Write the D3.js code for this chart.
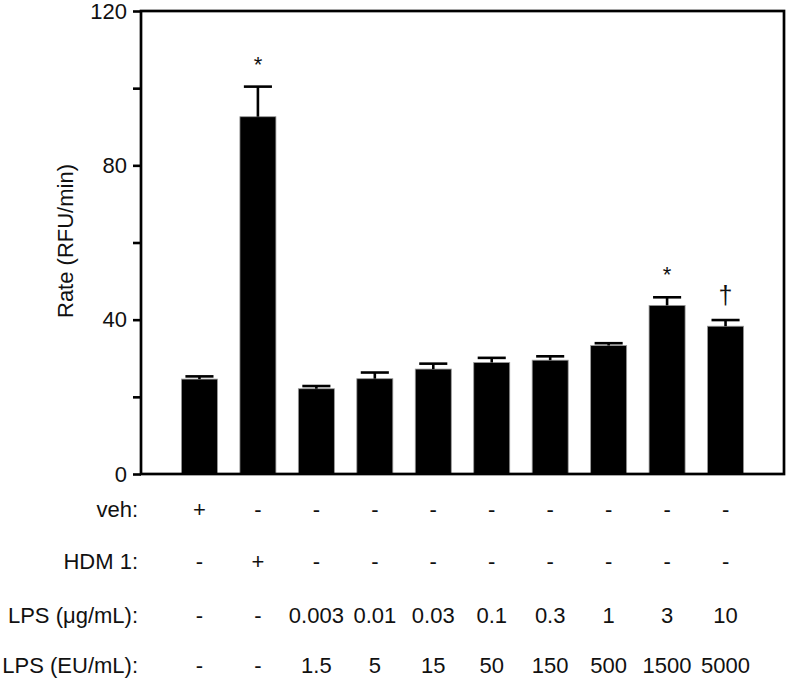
<!DOCTYPE html>
<html>
<head>
<meta charset="utf-8">
<script src="https://cdn.jsdelivr.net/npm/d3@7"></script>
<style>
  html, body { margin: 0; padding: 0; background: #fff; }
  svg { display: block; font-family: "Liberation Sans", Arial, Helvetica, sans-serif; }
</style>
</head>
<body>
<svg id="chart" width="788" height="680"></svg>
<script>
// ---- data ----
const groups = ["g1","g2","g3","g4","g5","g6","g7","g8","g9","g10"];
const means  = [24.6, 92.6, 22.1, 24.7, 27.2, 28.9, 29.5, 33.3, 43.7, 38.3];
const errors = [0.7, 7.8, 0.7, 1.6, 1.4, 1.2, 1.0, 0.6, 2.1, 1.6];
const marks  = ["", "*", "", "", "", "", "", "", "*", "\u2020"];
const yTicks = [0, 20, 40, 60, 80, 100, 120];
const yLabelTicks = [0, 40, 80, 120];
const rowLabels = ["veh:", "HDM 1:", "LPS (\u03BCg/mL):", "LPS (EU/mL):"];
const rowVeh  = ["+", "-", "-", "-", "-", "-", "-", "-", "-", "-"];
const rowHDM  = ["-", "+", "-", "-", "-", "-", "-", "-", "-", "-"];
const rowLPSug = ["-", "-", "0.003", "0.01", "0.03", "0.1", "0.3", "1", "3", "10"];
const rowLPSeu = ["-", "-", "1.5", "5", "15", "50", "150", "500", "1500", "5000"];
const rows = [rowVeh, rowHDM, rowLPSug, rowLPSeu];
const yTitle = "Rate (RFU/min)";

// ---- layout ----
const L = 141, R = 784, T = 11, B = 474;
const rowBaselines = [517, 569, 623, 673];
const fs = 22;

const svg = d3.select("#chart");

const x = d3.scaleBand().domain(groups).range([L, R])
  .paddingInner(0.384).paddingOuter(0.692);
const y = d3.scaleLinear().domain([0, 120]).range([B, T]);

// bars
svg.append("g").selectAll("rect").data(groups).join("rect")
  .attr("x", d => x(d))
  .attr("width", x.bandwidth())
  .attr("y", (d, i) => y(means[i]))
  .attr("height", (d, i) => y(0) - y(means[i]))
  .attr("fill", "#000")
  .attr("stroke", "#9a9a9a")
  .attr("stroke-width", 0.8);

// error bars (upper only)
const capW = x.bandwidth() * 0.78;
const eb = svg.append("g").attr("stroke", "#000").attr("stroke-width", 2.6);
groups.forEach((g, i) => {
  const cx = x(g) + x.bandwidth() / 2;
  eb.append("line").attr("x1", cx).attr("x2", cx)
    .attr("y1", y(means[i])).attr("y2", y(means[i] + errors[i]));
  eb.append("line").attr("x1", cx - capW / 2).attr("x2", cx + capW / 2)
    .attr("y1", y(means[i] + errors[i])).attr("y2", y(means[i] + errors[i]));
});

// significance marks
svg.append("g").selectAll("text").data(groups).join("text")
  .attr("x", d => x(d) + x.bandwidth() / 2)
  .attr("y", (d, i) => y(means[i] + errors[i]) - (marks[i] === "*" ? 15 : 16))
  .attr("text-anchor", "middle")
  .attr("font-size", (d, i) => marks[i] === "*" ? 22 : 25)
  .attr("fill", "#111")
  .text((d, i) => marks[i]);

// y axis
const yAxis = d3.axisLeft(y).tickValues(yTicks).tickSize(8).tickPadding(6)
  .tickFormat(d => yLabelTicks.includes(d) ? d : "");
const ya = svg.append("g").attr("transform", `translate(${L},0)`).call(yAxis);
ya.select(".domain").remove();
ya.selectAll(".tick line").attr("stroke", "#000").attr("stroke-width", 2.6);
ya.selectAll(".tick text").attr("font-size", fs).attr("fill", "#111")
  .attr("font-family", "Liberation Sans, Arial, sans-serif");

// frame
svg.append("rect")
  .attr("x", L).attr("y", T).attr("width", R - L).attr("height", B - T)
  .attr("fill", "none").attr("stroke", "#000").attr("stroke-width", 2.7);

// y title
svg.append("text")
  .attr("transform", `translate(73,241) rotate(-90)`)
  .attr("text-anchor", "middle")
  .attr("font-size", fs)
  .attr("fill", "#111")
  .text(yTitle);

// table
rowLabels.forEach((lab, r) => {
  svg.append("text")
    .attr("x", 138).attr("y", rowBaselines[r])
    .attr("text-anchor", "end")
    .attr("font-size", fs).attr("fill", "#111")
    .text(lab);
  svg.append("g").selectAll("text").data(groups).join("text")
    .attr("x", d => x(d) + x.bandwidth() / 2)
    .attr("y", rowBaselines[r])
    .attr("text-anchor", "middle")
    .attr("font-size", fs).attr("fill", "#111")
    .text((d, i) => rows[r][i]);
});
</script>
</body>
</html>
